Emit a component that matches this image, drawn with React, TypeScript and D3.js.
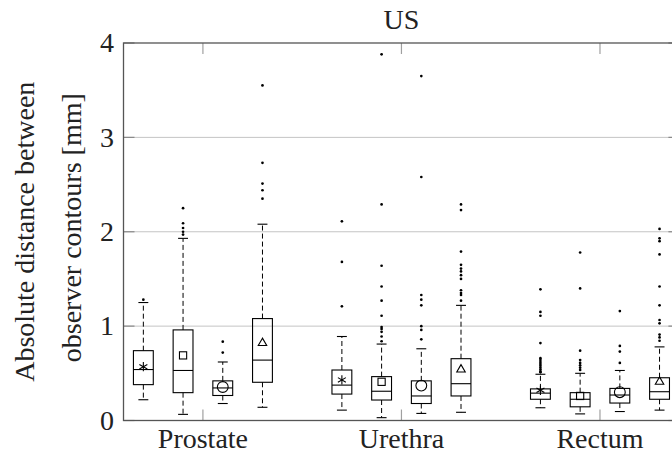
import React from "react";
import * as d3 from "d3";

// Box-plot statistics per structure (rows) and observer pair (columns)
const categories = ["Prostate", "Urethra", "Rectum"];
const seriesOffsets = [-0.3, -0.1, 0.1, 0.3];
const meanMarkers = ["asterisk", "square", "circle", "triangle"];
const yTicks = [0, 1, 2, 3, 4];

const lowerWhisker = [
  [0.22, 0.065, 0.18, 0.14],
  [0.11, 0.03, 0.075, 0.087],
  [0.135, 0.07, 0.095, 0.11],
];
const lowerQuartile = [
  [0.38, 0.295, 0.265, 0.405],
  [0.28, 0.217, 0.18, 0.26],
  [0.225, 0.145, 0.185, 0.225],
];
const medianValue = [
  [0.54, 0.53, 0.345, 0.64],
  [0.375, 0.31, 0.26, 0.39],
  [0.29, 0.225, 0.27, 0.305],
];
const upperQuartile = [
  [0.74, 0.96, 0.42, 1.08],
  [0.535, 0.465, 0.42, 0.655],
  [0.335, 0.295, 0.34, 0.453],
];
const upperWhisker = [
  [1.25, 1.93, 0.62, 2.08],
  [0.89, 0.81, 0.76, 1.22],
  [0.49, 0.5, 0.53, 0.78],
];
const meanValue = [
  [0.57, 0.69, 0.355, 0.82],
  [0.43, 0.41, 0.37, 0.54],
  [0.32, 0.26, 0.3, 0.41],
];
const outliers = [
  [
    [1.28],
    [1.97, 2.0, 2.04, 2.09, 2.25],
    [0.72, 0.835],
    [2.35, 2.44, 2.51, 2.73, 3.55],
  ],
  [
    [1.21, 1.68, 2.11],
    [0.84, 0.89, 0.94, 0.97, 0.99, 1.11, 1.27, 1.42, 1.64, 2.29, 3.88],
    [0.86, 0.96, 1.0, 1.22, 1.28, 1.33, 2.58, 3.65],
    [1.27, 1.33, 1.35, 1.38, 1.5, 1.54, 1.58, 1.61, 1.65, 1.79, 2.23, 2.29],
  ],
  [
    [0.51, 0.52, 0.54, 0.56, 0.58, 0.6, 0.62, 0.64, 0.66, 0.82, 1.11, 1.15, 1.39],
    [0.535, 0.56, 0.585, 0.61, 0.64, 0.74, 1.4, 1.78],
    [0.61, 0.73, 0.79, 1.16],
    [0.845, 0.88, 0.91, 1.03, 1.065, 1.22, 1.42, 1.76, 1.9, 1.93, 2.03],
  ],
];

const W = 672;
const H = 454;
const FONT = "'Liberation Serif', serif";
const FS = 28;

const x = d3.scaleLinear().domain([0.6, 3.4]).range([123.5, 679.4]);
const y = d3.scaleLinear().domain([0, 4]).range([420.5, 43]);

const boxHalf = 0.05;
const capHalf = 0.025;
const tickLen = 11;

function Label({
  tx,
  ty,
  rotate = 0,
  anchor = "middle",
  dy,
  children,
}: {
  tx: number;
  ty: number;
  rotate?: number;
  anchor?: string;
  dy?: string;
  children: React.ReactNode;
}) {
  return (
    <g transform={`translate(${tx}, ${ty}) rotate(${rotate})`}>
      <text
        x={0}
        y={0}
        dy={dy}
        textAnchor={anchor}
        fontSize={FS}
        fill="#222"
        fontFamily={FONT}
        style={{ fontFamily: FONT }}
      >
        {children}
      </text>
    </g>
  );
}

function MeanMark({ kind, cx, cy }: { kind: string; cx: number; cy: number }) {
  const common = { fill: "none", stroke: "#000", strokeWidth: 1.1 };
  if (kind === "square") {
    const s = 7.2;
    return <rect x={cx - s / 2} y={cy - s / 2} width={s} height={s} {...common} />;
  }
  if (kind === "circle") {
    return <circle cx={cx} cy={cy} r={5.4} {...common} />;
  }
  if (kind === "triangle") {
    const r = 4.9;
    const pts = [90, 210, 330]
      .map((a) => {
        const t = (a * Math.PI) / 180;
        return `${cx + r * Math.cos(t)},${cy - r * Math.sin(t)}`;
      })
      .join(" ");
    return <polygon points={pts} {...common} />;
  }
  // asterisk: three strokes through the centre
  const r = 4.6;
  return (
    <g {...common}>
      {[90, 30, 150].map((a) => {
        const t = (a * Math.PI) / 180;
        return (
          <line
            key={a}
            x1={cx - r * Math.cos(t)}
            y1={cy + r * Math.sin(t)}
            x2={cx + r * Math.cos(t)}
            y2={cy - r * Math.sin(t)}
          />
        );
      })}
    </g>
  );
}

export default function App() {
  const [x0, x1] = x.range();
  const [yb, yt] = y.range();
  const boxes: React.ReactNode[] = [];

  categories.forEach((_, ci) => {
    seriesOffsets.forEach((off, si) => {
      const pos = ci + 1 + off;
      const cx = x(pos);
      const bl = x(pos - boxHalf);
      const br = x(pos + boxHalf);
      const cl = x(pos - capHalf);
      const cr = x(pos + capHalf);
      const lw = y(lowerWhisker[ci][si]);
      const q1 = y(lowerQuartile[ci][si]);
      const md = y(medianValue[ci][si]);
      const q3 = y(upperQuartile[ci][si]);
      const uw = y(upperWhisker[ci][si]);
      const mn = y(meanValue[ci][si]);
      boxes.push(
        <g key={`${ci}-${si}`}>
          <line x1={cx} x2={cx} y1={q3} y2={uw} stroke="#000" strokeWidth={1} strokeDasharray="5 3" />
          <line x1={cx} x2={cx} y1={q1} y2={lw} stroke="#000" strokeWidth={1} strokeDasharray="5 3" />
          <line x1={cl} x2={cr} y1={uw} y2={uw} stroke="#000" strokeWidth={1.1} />
          <line x1={cl} x2={cr} y1={lw} y2={lw} stroke="#000" strokeWidth={1.1} />
          <rect x={bl} y={q3} width={br - bl} height={q1 - q3} fill="none" stroke="#000" strokeWidth={1.1} />
          <line x1={bl} x2={br} y1={md} y2={md} stroke="#000" strokeWidth={1.1} />
          <MeanMark kind={meanMarkers[si]} cx={cx} cy={mn} />
          {outliers[ci][si].map((v, k) => (
            <circle key={k} cx={cx} cy={y(v)} r={1.35} fill="#000" />
          ))}
        </g>
      );
    });
  });

  return (
    <svg
      width={W}
      height={H}
      viewBox={`0 0 ${W} ${H}`}
      style={{ position: "absolute", left: 0, top: 0, background: "#fff", fontFamily: FONT }}
    >
      <defs>
        <clipPath id="page">
          <rect x={0} y={0} width={W} height={H} />
        </clipPath>
      </defs>
      <g clipPath="url(#page)">
        {/* horizontal grid */}
        {yTicks.slice(1, -1).map((t) => (
          <line key={t} x1={x0} x2={x1} y1={y(t)} y2={y(t)} stroke="#c4c4c4" strokeWidth={1} />
        ))}
        {/* y ticks on both sides */}
        {yTicks.map((t) => (
          <g key={t} stroke="#8a8a8a" strokeWidth={1.2}>
            <line x1={x0} x2={x0 + tickLen} y1={y(t)} y2={y(t)} />
            <line x1={x1} x2={x1 - tickLen} y1={y(t)} y2={y(t)} />
          </g>
        ))}
        {/* category ticks top and bottom */}
        {categories.map((c, i) => (
          <g key={c} stroke="#a0a0a0" strokeWidth={1.2}>
            <line x1={x(i + 1)} x2={x(i + 1)} y1={yt} y2={yt + tickLen} />
            <line x1={x(i + 1)} x2={x(i + 1)} y1={yb} y2={yb - tickLen} />
          </g>
        ))}
        {boxes}
        {/* frame */}
        <rect x={x0} y={yt} width={x1 - x0} height={yb - yt} fill="none" stroke="#555" strokeWidth={1.3} />
      </g>

      {/* tick labels */}
      {yTicks.map((t) => (
        <Label key={t} tx={114} ty={y(t)} dy="0.33em" anchor="end">
          {t}
        </Label>
      ))}
      {categories.map((c, i) => (
        <Label key={c} tx={x(i + 1)} ty={447.5}>
          {c}
        </Label>
      ))}

      {/* title */}
      <Label tx={(x0 + x1) / 2} ty={28.5}>
        US
      </Label>

      {/* y axis label */}
      <Label tx={33.5} ty={(yt + yb) / 2} rotate={-90}>
        Absolute distance between
      </Label>
      <Label tx={81} ty={(yt + yb) / 2 - 4} rotate={-90}>
        observer contours [mm]
      </Label>
    </svg>
  );
}
